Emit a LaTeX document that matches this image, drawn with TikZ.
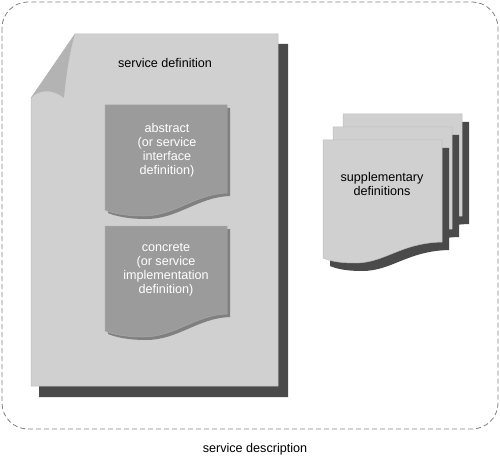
\documentclass[tikz,border=0pt]{standalone}
\usepackage{fontspec}
\setmainfont{Liberation Sans}
\begin{document}
\begin{tikzpicture}[x=1pt,y=-1pt,
  pagefill/.style={fill=pagegray,draw=edgegray,line width=0.5pt},
  shadowfill/.style={fill=shadowgray,draw=none},
  innerfill/.style={fill=innergray,draw=inneredge,line width=0.5pt},
  innershadow/.style={fill=innershade,draw=none},
  curlfill/.style={fill=curlgray,draw=none},
  lbl/.style={font=\fontsize{12.6}{14}\selectfont,align=center,inner sep=0pt},
  wlbl/.style={lbl,text=white},
  frame/.style={draw=framegray,line width=0.8pt,dash pattern=on 5pt off 3pt,rounded corners=26pt}]
\definecolor{pagegray}{HTML}{D0D0D0}
\definecolor{edgegray}{HTML}{BDBDBD}
\definecolor{shadowgray}{HTML}{4A4A4A}
\definecolor{innergray}{HTML}{9B9B9B}
\definecolor{inneredge}{HTML}{A8A8A8}
\definecolor{innershade}{HTML}{808080}
\definecolor{curlgray}{HTML}{B3B3B3}
\definecolor{framegray}{HTML}{808080}
\useasboundingbox (0,0) rectangle (500,457);
% outer dashed frame
\draw[frame] (2,2) rectangle (498,429);
% main page shadow
\path[shadowfill] (278,44) -- (288,44) -- (288,397) -- (39,397) -- (39,386) -- (278,386) -- cycle;
% main page
\path[pagefill] (75,34) -- (278,34) -- (278,386) -- (31,386) -- (31,98) -- cycle;
% curl
\path[curlfill] (75,34) -- (31,98) .. controls (38,90) and (52,88) .. (64,98) .. controls (66,75) and (70,50) .. (75,34) -- cycle;
% abstract and concrete docs
\foreach \dy in {0,121}{
  \begin{scope}[yshift=-\dy pt]
    \path[innershadow] (108,108) -- (230,108) -- (230,196) .. controls (198,197) and (178,219) .. (146,219) .. controls (128,219) and (115,216) .. (108,213) -- cycle;
    \path[innerfill] (105,105) -- (227,105) -- (227,193) .. controls (195,194) and (175,216) .. (143,216) .. controls (125,216) and (112,213) .. (105,210) -- cycle;
  \end{scope}
}
\node[lbl] (sdef) at (165,63) {service definition};
\node[wlbl] (abs) at (167,150) {abstract\\(or service\\interface\\definition)};
\node[wlbl] (con) at (166,270) {concrete\\(or service\\implementation\\definition)};
% supplementary stack
\foreach \dx/\dy in {20/-26,10/-13,0/0}{
  \begin{scope}[shift={(\dx,\dy)}]
    \path[shadowfill] (330,148) -- (449,148) -- (449,250) .. controls (407,251) and (392,271) .. (362,271) .. controls (347,271) and (337,269) .. (330,266) -- cycle;
    \path[pagefill] (323,140) -- (442,140) -- (442,242) .. controls (400,243) and (385,263) .. (355,263) .. controls (340,263) and (330,261) .. (323,258) -- cycle;
  \end{scope}
}
\node[lbl] (supp) at (382,184) {supplementary\\definitions};
\node[lbl] (sdesc) at (255,449) {service description};
\end{tikzpicture}
\end{document}
